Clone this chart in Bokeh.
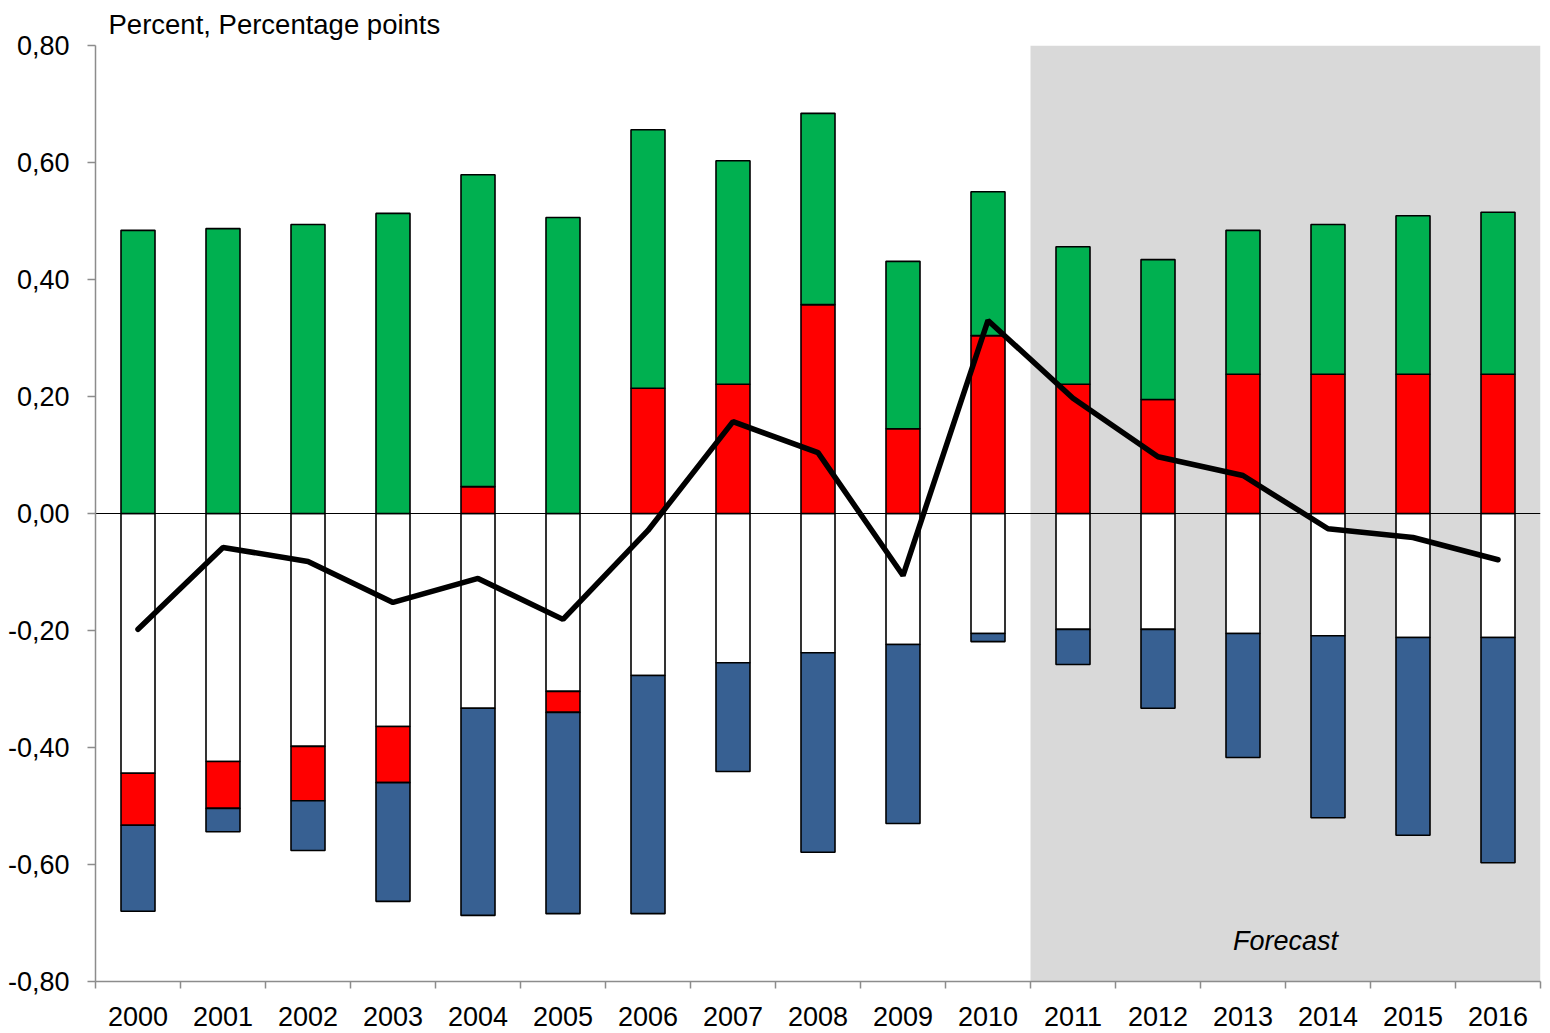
import numpy as np
from bokeh.plotting import figure
from bokeh.models import (Range1d, FixedTicker, CustomJSTickFormatter, BoxAnnotation,
                          Span, Label, ColumnDataSource)
from bokeh.embed import file_html
from bokeh.resources import INLINE

# ---- data ----
years = [str(y) for y in range(2000, 2017)]
green = [0.484, 0.487, 0.494, 0.513, 0.533, 0.506, 0.442, 0.382, 0.327, 0.286, 0.246,
         0.235, 0.239, 0.246, 0.256, 0.271, 0.277]
red = [-0.089, -0.080, -0.093, -0.096, 0.046, -0.036, 0.214, 0.221, 0.357, 0.145, 0.304,
       0.221, 0.195, 0.238, 0.238, 0.238, 0.238]
white = [-0.444, -0.424, -0.398, -0.364, -0.333, -0.304, -0.277, -0.255, -0.238, -0.224, -0.205,
         -0.198, -0.198, -0.205, -0.209, -0.212, -0.212]
blue = [-0.147, -0.040, -0.085, -0.203, -0.354, -0.344, -0.407, -0.186, -0.341, -0.306, -0.014,
        -0.060, -0.135, -0.212, -0.311, -0.338, -0.385]
total = [-0.198, -0.058, -0.082, -0.152, -0.111, -0.181, -0.029, 0.157, 0.104, -0.106, 0.330,
         0.197, 0.097, 0.065, -0.026, -0.041, -0.079]
forecast_start = "2011"
forecast_label = "Forecast"
y_label = "Percent, Percentage points"
y_ticks = [-0.8, -0.6, -0.4, -0.2, 0.0, 0.2, 0.4, 0.6, 0.8]

FONT = "Liberation Sans"
FS = "27px"

n = len(years)
x = np.arange(n) + 0.5
g = np.array(green); r = np.array(red); w = np.array(white); b = np.array(blue)
r_pos = np.where(r > 0, r, 0.0)
r_neg = np.where(r < 0, r, 0.0)

src = ColumnDataSource(dict(
    x=x,
    w_top=np.zeros(n), w_bot=w,
    r_top=np.where(r > 0, r, w), r_bot=np.where(r > 0, 0.0, w + r),
    b_top=w + r_neg, b_bot=w + r_neg + b,
    g_bot=r_pos, g_top=r_pos + g,
    total=total,
))

p = figure(width=1545, height=1030, output_backend="svg", toolbar_location=None,
           x_range=Range1d(0, n), y_range=Range1d(-0.8, 0.8),
           title=y_label,
           min_border_left=95, min_border_right=5, min_border_top=45, min_border_bottom=49)
p.outline_line_color = None
p.xgrid.visible = False
p.ygrid.visible = False
p.background_fill_color = "white"

p.title.text_font = FONT
p.title.text_font_size = "27.5px"
p.title.text_font_style = "normal"
p.title.text_color = "black"
p.title.align = "left"
p.title.vertical_align = "bottom"
p.title.text_line_height = 0.7
p.title.offset = 13
p.title.standoff = 12

# forecast shading
p.add_layout(BoxAnnotation(left=years.index(forecast_start), fill_color="#D9D9D9", fill_alpha=1.0,
                           line_color=None, level="underlay"))
p.add_layout(Span(location=0, dimension="width", line_color="black", line_width=1, level="underlay"))

bw = 0.4
lw = 1.6
p.vbar(x="x", top="w_top", bottom="w_bot", width=bw, source=src, fill_color="white",
       line_color="black", line_width=lw)
p.vbar(x="x", top="r_top", bottom="r_bot", width=bw, source=src, fill_color="#FF0000",
       line_color="black", line_width=lw)
p.vbar(x="x", top="b_top", bottom="b_bot", width=bw, source=src, fill_color="#376092",
       line_color="black", line_width=lw)
p.vbar(x="x", top="g_top", bottom="g_bot", width=bw, source=src, fill_color="#00B050",
       line_color="black", line_width=lw)
p.line(x="x", y="total", source=src, line_color="black", line_width=5.5, line_cap="round")

# axes
axis_gray = "#8C8C8C"
xa = p.xaxis[0]
xa.ticker = FixedTicker(ticks=list(x), minor_ticks=list(range(n + 1)))
xa.formatter = CustomJSTickFormatter(args=dict(years=years),
                                     code="return years[Math.floor(tick)];")
xa.axis_line_color = axis_gray
xa.axis_line_width = 1.5
xa.major_tick_line_color = None
xa.major_tick_out = 7
xa.major_tick_in = 0
xa.minor_tick_line_color = axis_gray
xa.minor_tick_line_width = 1.5
xa.minor_tick_out = 7
xa.minor_tick_in = 0
xa.major_label_standoff = 18
xa.major_label_text_font = FONT
xa.major_label_text_font_size = FS
xa.major_label_text_color = "black"

ya = p.yaxis[0]
ya.ticker = FixedTicker(ticks=y_ticks, minor_ticks=[])
ya.formatter = CustomJSTickFormatter(code="return tick.toFixed(2).replace('.', ',');")
ya.axis_line_color = axis_gray
ya.axis_line_width = 1.5
ya.major_tick_line_color = axis_gray
ya.major_tick_line_width = 1.5
ya.major_tick_out = 8
ya.major_tick_in = 0
ya.minor_tick_line_color = None
ya.major_label_standoff = 18
ya.major_label_text_font = FONT
ya.major_label_text_font_size = FS
ya.major_label_text_color = "black"

p.add_layout(Label(x=years.index(forecast_start) + 3, y=-0.73, text=forecast_label,
                   text_font=FONT, text_font_size=FS, text_font_style="italic",
                   text_color="black", text_align="center", text_baseline="middle"))

open("out.html", "w").write(file_html(p, INLINE))
